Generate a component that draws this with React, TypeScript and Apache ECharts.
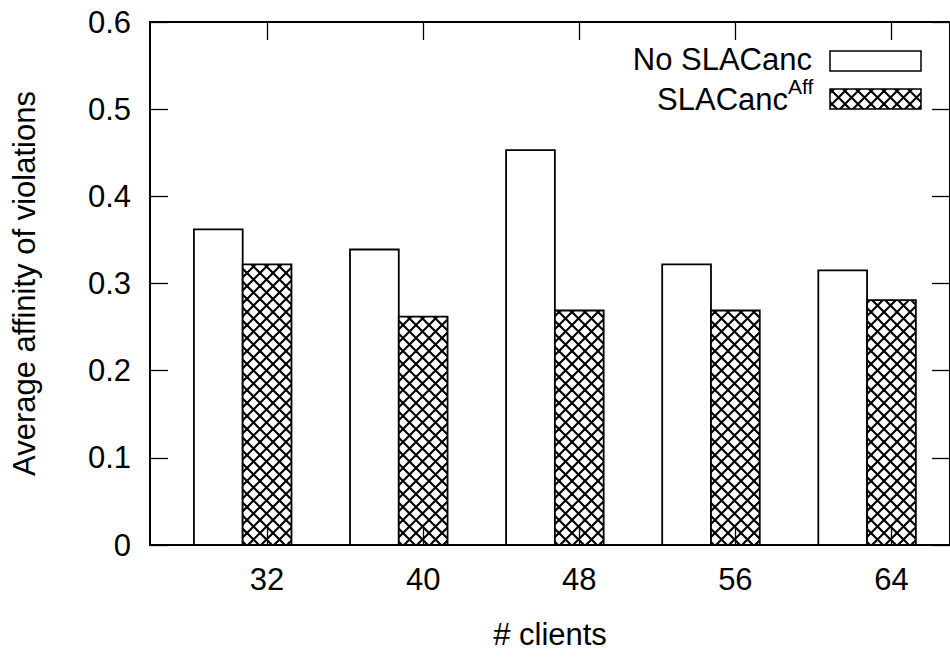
import React, { useEffect, useRef } from "react";
import * as echarts from "echarts";

const clients = [32, 40, 48, 56, 64];
const noSlaCanc = [0.362, 0.339, 0.453, 0.322, 0.315];
const slaCancAff = [0.322, 0.262, 0.269, 0.269, 0.281];
const yTicks = [0, 0.1, 0.2, 0.3, 0.4, 0.5, 0.6];

const FONT = "'Liberation Sans', Arial, Helvetica, sans-serif";
const FS = 31;

function makeHatch(): any {
  const c = document.createElement("canvas");
  const s = 13;
  c.width = s;
  c.height = s;
  const ctx = c.getContext("2d")!;
  ctx.fillStyle = "#fff";
  ctx.fillRect(0, 0, s, s);
  ctx.strokeStyle = "#000";
  ctx.lineWidth = 2.1;
  for (let k = -1; k <= 1; k++) {
    ctx.beginPath();
    ctx.moveTo(k * s, 0);
    ctx.lineTo(k * s + s, s);
    ctx.stroke();
    ctx.beginPath();
    ctx.moveTo(k * s + s, 0);
    ctx.lineTo(k * s, s);
    ctx.stroke();
  }
  return { image: c, repeat: "repeat" };
}

export default function App() {
  const ref = useRef<HTMLDivElement>(null);

  useEffect(() => {
    document.body.style.margin = "0";
    const chart = echarts.init(ref.current!, null, { renderer: "svg" });
    const hatch = makeHatch();

    const barSeries = (name: string, vals: number[], from: number, to: number, fill: any) => ({
      type: "custom",
      name,
      data: clients.map((c, i) => [c, vals[i]]),
      z: 2,
      renderItem: (_p: any, api: any) => {
        const x = api.value(0);
        const y = api.value(1);
        const a = api.coord([x + from, y]);
        const b = api.coord([x + to, 0]);
        return {
          type: "rect",
          shape: { x: a[0], y: a[1], width: b[0] - a[0], height: b[1] - a[1] },
          style: { fill, stroke: "#000", lineWidth: 1.8 },
        };
      },
    });

    const axisLine = { show: true, onZero: false, lineStyle: { color: "#000", width: 2 } };
    const tick = { show: true, inside: true, length: 18, lineStyle: { color: "#000", width: 1.3 } };

    chart.setOption({
      animation: false,
      backgroundColor: "#fff",
      grid: { left: 150, top: 22, right: -5, bottom: 114, containLabel: false },
      xAxis: [
        {
          type: "value",
          min: 26,
          max: 67,
          position: "bottom",
          z: 10,
          axisLine,
          axisTick: { ...tick, customValues: clients },
          axisLabel: {
            customValues: clients,
            fontSize: FS,
            fontFamily: FONT,
            color: "#000",
            margin: 19,
          },
          splitLine: { show: false },
          name: "# clients",
          nameLocation: "middle",
          nameGap: 74,
          nameTextStyle: { fontSize: FS, fontFamily: FONT, color: "#000" },
        },
        {
          type: "value",
          min: 26,
          max: 67,
          position: "top",
          z: 10,
          axisLine,
          axisTick: { ...tick, customValues: clients },
          axisLabel: { show: false },
          splitLine: { show: false },
        },
      ],
      yAxis: [
        {
          type: "value",
          min: 0,
          max: 0.6,
          interval: 0.1,
          position: "left",
          z: 10,
          axisLine,
          axisTick: tick,
          axisLabel: {
            customValues: yTicks,
            fontSize: FS,
            fontFamily: FONT,
            color: "#000",
            margin: 19,
            formatter: (v: number) => String(Math.round(v * 10) / 10),
          },
          splitLine: { show: false },
          name: "Average affinity of violations",
          nameLocation: "middle",
          nameGap: 110,
          nameRotate: 90,
          nameTextStyle: { fontSize: FS, fontFamily: FONT, color: "#000" },
        },
        {
          type: "value",
          min: 0,
          max: 0.6,
          interval: 0.1,
          position: "right",
          z: 10,
          axisLine,
          axisTick: tick,
          axisLabel: { show: false },
          splitLine: { show: false },
        },
      ],
      series: [
        barSeries("No SLACanc", noSlaCanc, -3.75, -1.25, "#fff"),
        barSeries("SLACanc Aff", slaCancAff, -1.25, 1.25, hatch),
      ],
      graphic: [
        {
          type: "text",
          x: 812,
          y: 59,
          z: 20,
          style: {
            text: "No SLACanc",
            fontSize: FS,
            lineHeight: 26,
            fontFamily: FONT,
            fill: "#000",
            align: "right",
            verticalAlign: "middle",
          },
        },
        {
          type: "rect",
          z: 20,
          shape: { x: 830, y: 51, width: 91, height: 20 },
          style: { fill: "#fff", stroke: "#000", lineWidth: 1.5 },
        },
        {
          type: "text",
          x: 788,
          y: 99,
          z: 20,
          style: {
            text: "SLACanc",
            fontSize: FS,
            lineHeight: 26,
            fontFamily: FONT,
            fill: "#000",
            align: "right",
            verticalAlign: "middle",
          },
        },
        {
          type: "text",
          x: 788,
          y: 86,
          z: 20,
          style: {
            text: "Aff",
            fontSize: 21,
            lineHeight: 17,
            fontFamily: FONT,
            fill: "#000",
            align: "left",
            verticalAlign: "middle",
          },
        },
        {
          type: "rect",
          z: 20,
          shape: { x: 830, y: 89, width: 91, height: 20 },
          style: { fill: hatch, stroke: "#000", lineWidth: 1.5 },
        },
      ],
    });

    return () => chart.dispose();
  }, []);

  return <div ref={ref} style={{ width: 950, height: 659 }} />;
}
